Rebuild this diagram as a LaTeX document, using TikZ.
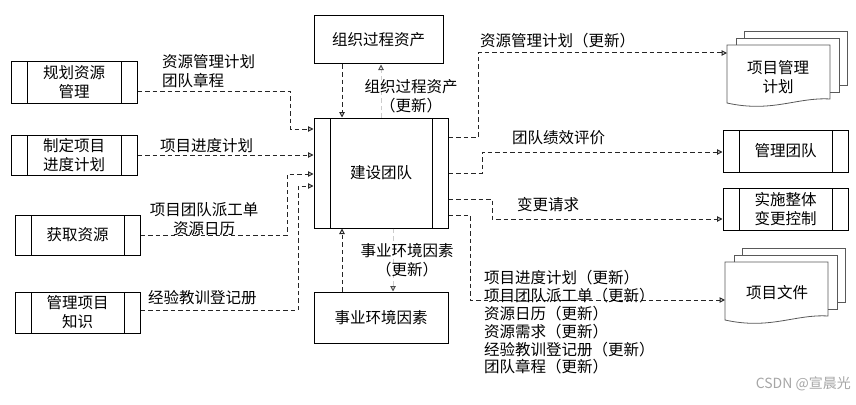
\documentclass[tikz,border=0pt]{standalone}
\usepackage{fontspec}
\setmainfont{Noto Sans CJK SC}
\usetikzlibrary{arrows.meta,calc}
\newcommand\docstack[2]{%
 \begin{scope}[shift={(#1,#2)}]
  \draw[doc] (17,-7) -- (17,-14) -- (120,-14) -- (120,40) -- (112,40);
  \draw[doc] (9,0) -- (9,-7) -- (112,-7) -- (112,47) -- (103,47);
  \draw[doc] (0,0) -- (103,0) -- (103,54) .. controls (70,52) and (45,68) .. (0,58) -- cycle;
 \end{scope}}
\begin{document}
\begin{tikzpicture}[x=1pt,y=-1pt,
  font=\fontsize{15.5}{19}\selectfont,
  box/.style={draw=black,line width=1pt,inner sep=0pt,align=center},
  proc/.style={box,path picture={
    \draw[line width=1pt] ([xshift=16pt]path picture bounding box.north west) -- ([xshift=16pt]path picture bounding box.south west);
    \draw[line width=1pt] ([xshift=-16pt]path picture bounding box.north east) -- ([xshift=-16pt]path picture bounding box.south east);}},
  flow/.style={draw=black!85,line width=1pt,dash pattern=on 4.5pt off 3pt,-{Triangle[open,length=5.5pt,width=5.5pt]}},
  faint/.style={draw=black!20,line width=1pt,dash pattern=on 4.5pt off 3pt,-{Triangle[open,length=5.5pt,width=5.5pt,color=black!70]}},
  lbl/.style={inner sep=0pt,align=left},
  doc/.style={draw=black!65,line width=0.8pt}]
\useasboundingbox (0,0) rectangle (856,404);

% process boxes
\node[proc,minimum width=126pt,minimum height=41pt] (b1) at (74,82.5) {规划资源\\管理};
\node[proc,minimum width=126pt,minimum height=40pt] (b2) at (74,155) {制定项目\\进度计划};
\node[proc,minimum width=125pt,minimum height=40pt] (b3) at (77.5,235) {获取资源};
\node[proc,minimum width=125pt,minimum height=41pt] (b4) at (77.5,312.5) {管理项目\\知识};
\node[proc,minimum width=134pt,minimum height=110pt] (ctr) at (381,173) {建设团队};
\node[box,minimum width=129pt,minimum height=48pt] (opa) at (378.5,40) {组织过程资产};
\node[box,minimum width=134pt,minimum height=51pt] (eef) at (381,317.5) {事业环境因素};
\node[proc,minimum width=125pt,minimum height=42pt] (mt) at (785.5,151) {管理团队};
\node[proc,minimum width=125pt,minimum height=42pt] (ic) at (785.5,209) {实施整体\\变更控制};

% document stacks
\docstack{727}{45}
\node[align=center,inner sep=0pt] (pmp) at (778,77) {项目管理\\计划};
\coordinate (pmpin) at (727,53);
\docstack{725}{262}
\node[inner sep=0pt] (pd) at (777,293) {项目文件};
\coordinate (pdin) at (725,300);

% inputs
\draw[flow] (b1.east |- 0,91) -| (290,129) -- (ctr.west |- 0,129);
\draw[flow] (b2.east |- 0,155) -- (ctr.west |- 0,155);
\draw[flow] (b3.east |- 0,235) -| (287,174) -- (ctr.west |- 0,174);
\draw[flow] (b4.east |- 0,310) -| (298,186) -- (ctr.west |- 0,186);
\draw[flow] (opa.south -| 342,0) -- (ctr.north -| 342,0);
\draw[faint] (ctr.north -| 381,0) -- (opa.south -| 381,0);
\draw[flow] (eef.north -| 342,0) -- (ctr.south -| 342,0);
\draw[faint] (ctr.south -| 393,0) -- (eef.north -| 393,0);

% outputs
\draw[flow] (ctr.east |- 0,137) -| (478,53) -- (pmpin);
\draw[flow] (ctr.east |- 0,173) -| (482,152) -- (mt.west |- 0,152);
\draw[flow] (ctr.east |- 0,199) -| (492,219) -- (ic.west |- 0,219);
\draw[flow] (ctr.east |- 0,215) -| (470,300) -- (pdin);

% labels
\node[lbl,anchor=west] (l1) at (162,71.5) {资源管理计划\\团队章程};
\node[lbl,anchor=west] (l2) at (160,146) {项目进度计划};
\node[lbl,align=center] (l3) at (204,219) {项目团队派工单\\资源日历};
\node[lbl,anchor=west] (l4) at (148,298) {经验教训登记册};
\node[lbl,align=center] (l5) at (411,96) {组织过程资产\\（更新）};
\node[lbl,align=center] (l6) at (407,260) {事业环境因素\\（更新）};
\node[lbl,anchor=west] (r1) at (480,41) {资源管理计划（更新）};
\node[lbl,anchor=west] (r2) at (512,138) {团队绩效评价};
\node[lbl,anchor=west] (r3) at (517,205) {变更请求};
\node[lbl,anchor=west,font=\fontsize{15.5}{17.8}\selectfont] (r4) at (484,322.5)
  {项目进度计划（更新）\\项目团队派工单（更新）\\资源日历（更新）\\资源需求（更新）\\经验教训登记册（更新）\\团队章程（更新）};
\node[anchor=east,inner sep=0pt,text=black!35,font=\fontsize{14}{16}\selectfont] (wm) at (851,384) {CSDN @宣晨光};
\end{tikzpicture}
\end{document}
